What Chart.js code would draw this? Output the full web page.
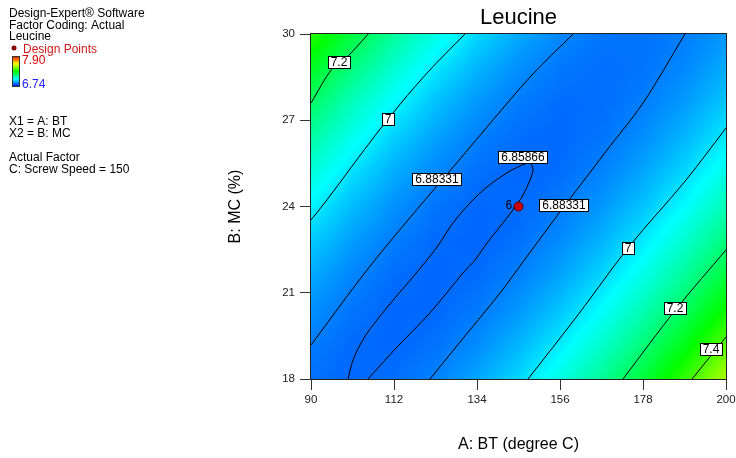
<!DOCTYPE html>
<html><head><meta charset="utf-8">
<script src="https://cdn.jsdelivr.net/npm/chart.js@4.4.0/dist/chart.umd.min.js"></script>
<style>html,body{margin:0;padding:0;background:#fff}#wrap{width:736px;height:458px;position:relative}</style>
</head><body><div id="wrap"><canvas id="c" width="736" height="458"></canvas></div>
<script>
// ---------- data ----------
const chartTitle = 'Leucine';
const xTitle = 'A: BT (degree C)';
const yTitle = 'B: MC (%)';
const xTicks = [90, 112, 134, 156, 178, 200];
const yTicks = [18, 21, 24, 27, 30];
const legendMax = 7.90;
const legendMin = 6.74;

// estimated response values on a grid (rows: B from 18 to 30, cols: A from 90 to 200)
const gridX = [90, 101, 112, 123, 134, 145, 156, 167, 178, 189, 200];
const gridY = [18, 19.2, 20.4, 21.6, 22.8, 24, 25.2, 26.4, 27.6, 28.8, 30];
const gridValues = [
  [6.867, 6.858, 6.866, 6.889, 6.929, 6.986, 7.060, 7.150, 7.255, 7.378, 7.517],
  [6.882, 6.861, 6.857, 6.870, 6.899, 6.945, 7.008, 7.086, 7.181, 7.292, 7.421],
  [6.904, 6.872, 6.857, 6.859, 6.877, 6.912, 6.963, 7.030, 7.113, 7.215, 7.332],
  [6.934, 6.891, 6.865, 6.856, 6.863, 6.886, 6.926, 6.983, 7.055, 7.145, 7.251],
  [6.972, 6.919, 6.882, 6.861, 6.856, 6.868, 6.898, 6.943, 7.005, 7.083, 7.178],
  [7.018, 6.954, 6.905, 6.873, 6.858, 6.860, 6.878, 6.912, 6.962, 7.029, 7.114],
  [7.072, 6.996, 6.937, 6.895, 6.868, 6.858, 6.865, 6.888, 6.928, 6.984, 7.056],
  [7.135, 7.048, 6.977, 6.924, 6.886, 6.865, 6.860, 6.872, 6.901, 6.946, 7.007],
  [7.205, 7.106, 7.025, 6.960, 6.912, 6.880, 6.864, 6.865, 6.883, 6.916, 6.967],
  [7.283, 7.175, 7.081, 7.005, 6.945, 6.903, 6.876, 6.866, 6.872, 6.895, 6.935],
  [7.369, 7.249, 7.145, 7.058, 6.987, 6.934, 6.895, 6.874, 6.870, 6.882, 6.910]
];

// contour lines (A, B)
const contour72Left = [{x:90,y:27.60},{x:95.49,y:28.77},{x:99.46,y:29.19},{x:105.19,y:30}];
const contour70Left = [{x:90,y:23.53},{x:94.24,y:24.23},{x:102.11,y:25.62},{x:110.41,y:27.04},{x:120.67,y:28.63},{x:130.82,y:30}];
const contour6883Left = [{x:90,y:19.18},{x:104.84,y:21.79},{x:120.22,y:24.23},{x:129.49,y:25.65},{x:138.24,y:27.01},{x:148.05,y:28.50},{x:159.45,y:30}];
const contour6859 = [
  {x:99.81,y:18},{x:101.13,y:18.66},{x:104.05,y:19.43},{x:107.49,y:20.05},{x:112.26,y:20.82},
  {x:117.04,y:21.55},{x:123.40,y:22.59},{x:127.64,y:23.43},{x:132.14,y:24.12},{x:136.65,y:24.68},
  {x:141.95,y:25.17},{x:145.40,y:25.41},{x:148.05,y:25.51},{x:148.84,y:25.27},{x:148.05,y:24.92},
  {x:146.19,y:24.40},{x:144.07,y:23.98},{x:140.89,y:23.43},{x:136.65,y:22.73},{x:133.47,y:22.14},
  {x:130.29,y:21.69},{x:121.54,y:20.30},{x:112.80,y:19.11},{x:105.11,y:18}
];
const contour6883Right = [{x:121.54,y:18},{x:130.82,y:19.50},{x:140.10,y:20.99},{x:146.46,y:22.12},{x:152.02,y:23.11},{x:157.32,y:24.05},{x:162.89,y:25.0},{x:168.19,y:25.92},{x:178.0,y:27.6},{x:189.13,y:30}];
const contour70Right = [{x:147.52,y:18},{x:160.77,y:20.23},{x:174.02,y:22.56},{x:189.40,y:24.92},{x:200,y:26.73}];
const contour72Right = [{x:172.70,y:18},{x:187.01,y:20.47},{x:200,y:22.49}];
const contour74Right = [{x:190.99,y:18},{x:200,y:19.46}];

const contourLabels = ['7.2', '7', '6.88331', '6.85866', '6.88331', '7', '7.2', '7.4'];
const contourLabelA = [97.29, 110.41, 123.40, 146.19, 157.06, 174.02, 186.48, 196.02];
const contourLabelB = [29.01, 27.04, 24.97, 25.72, 24.05, 22.56, 20.47, 19.06];

const designPoints = [{x:145, y:24}];
const designPointLabels = ['6.'];

const legendLines = ['Design-Expert\u00AE Software', 'Factor Coding: Actual', 'Leucine'];
const factorLines = ['X1 = A: BT', 'X2 = B: MC'];
const actualFactorLines = ['Actual Factor', 'C: Screw Speed = 150'];

// ---------- helpers ----------
const FONT = '"Liberation Sans", Arial, sans-serif';
const STOPS = [[0,0,0,255],[0.25,0,255,255],[0.5,0,255,0],[0.75,255,255,0],[1,255,0,0]];
function colorFor(v){
  let t = (v - legendMin) / (legendMax - legendMin);
  t = Math.max(0, Math.min(1, t));
  for (let i = 0; i < STOPS.length - 1; i++){
    const a = STOPS[i], b = STOPS[i+1];
    if (t <= b[0]){
      const f = (t - a[0]) / (b[0] - a[0]);
      return [a[1]+(b[1]-a[1])*f, a[2]+(b[2]-a[2])*f, a[3]+(b[3]-a[3])*f];
    }
  }
  return [255,0,0];
}
function idx(arr, v){
  let i = 0;
  while (i < arr.length - 2 && v > arr[i+1]) i++;
  return i;
}
function sample(xv, yv){
  const i = idx(gridX, xv), j = idx(gridY, yv);
  let fx = (xv - gridX[i]) / (gridX[i+1] - gridX[i]);
  let fy = (yv - gridY[j]) / (gridY[j+1] - gridY[j]);
  fx = Math.max(0, Math.min(1, fx)); fy = Math.max(0, Math.min(1, fy));
  const v00 = gridValues[j][i], v10 = gridValues[j][i+1], v01 = gridValues[j+1][i], v11 = gridValues[j+1][i+1];
  return v00*(1-fx)*(1-fy) + v10*fx*(1-fy) + v01*(1-fx)*fy + v11*fx*fy;
}

const heatmapPlugin = {
  id: 'heatmap',
  beforeDatasetsDraw(chart){
    const {ctx, chartArea: a, scales: {x, y}} = chart;
    const L = Math.round(a.left), T = Math.round(a.top);
    const w = Math.round(a.right) - L, h = Math.round(a.bottom) - T;
    const img = ctx.createImageData(w, h);
    for (let j = 0; j < h; j++){
      const yv = y.getValueForPixel(T + j + 0.5);
      for (let i = 0; i < w; i++){
        const xv = x.getValueForPixel(L + i + 0.5);
        const c = colorFor(sample(xv, yv));
        const k = (j*w + i) * 4;
        img.data[k] = c[0]; img.data[k+1] = c[1]; img.data[k+2] = c[2]; img.data[k+3] = 255;
      }
    }
    const off = document.createElement('canvas');
    off.width = w; off.height = h;
    off.getContext('2d').putImageData(img, 0, 0);
    ctx.drawImage(off, L, T);
  }
};

const overlayPlugin = {
  id: 'overlay',
  afterDatasetsDraw(chart){
    const {ctx, chartArea: a, scales: {x, y}} = chart;
    ctx.save();
    // contour labels
    ctx.font = '12px ' + FONT;
    ctx.textAlign = 'center';
    ctx.textBaseline = 'middle';
    for (let i = 0; i < contourLabels.length; i++){
      const px = Math.round(x.getPixelForValue(contourLabelA[i]));
      const py = Math.round(y.getPixelForValue(contourLabelB[i]));
      const tw = Math.ceil(ctx.measureText(contourLabels[i]).width);
      const bw = tw + 6, bh = 13;
      const bx = Math.round(px - bw/2), by = Math.round(py - bh/2);
      ctx.fillStyle = '#fff';
      ctx.fillRect(bx, by, bw, bh);
      ctx.strokeStyle = '#000';
      ctx.lineWidth = 1;
      ctx.strokeRect(bx + 0.5, by + 0.5, bw - 1, bh - 1);
      ctx.fillStyle = '#000';
      ctx.fillText(contourLabels[i], px, py + 0.5);
    }
    // design point labels
    ctx.textAlign = 'right';
    ctx.font = '12px ' + FONT;
    ctx.fillStyle = '#000';
    designPoints.forEach((p, i) => {
      ctx.fillText(designPointLabels[i], x.getPixelForValue(p.x) - 3, y.getPixelForValue(p.y) - 1);
    });
    // plot border
    ctx.strokeStyle = '#222';
    ctx.lineWidth = 1;
    ctx.strokeRect(Math.round(a.left) - 0.5, Math.round(a.top) - 0.5, Math.round(a.right) - Math.round(a.left) + 1, Math.round(a.bottom) - Math.round(a.top) + 1);
    ctx.restore();
  },
  afterDraw(chart){
    const ctx = chart.ctx;
    ctx.save();
    ctx.font = '12px ' + FONT;
    ctx.textAlign = 'left';
    ctx.textBaseline = 'alphabetic';
    ctx.fillStyle = '#000';
    legendLines.forEach((t, i) => ctx.fillText(t, 9, 17 + i*11.7));
    // design points legend
    ctx.fillStyle = '#8b0000';
    ctx.beginPath(); ctx.arc(14, 48, 2.5, 0, Math.PI*2); ctx.fill();
    ctx.fillStyle = '#d01818';
    ctx.fillText('Design Points', 23, 52.5);
    // color bar
    const gx = 12, gy = 56, gw = 8, gh = 31;
    const grad = ctx.createLinearGradient(0, gy, 0, gy + gh);
    for (let s = 0; s <= 20; s++){
      const c = colorFor(legendMax - (legendMax - legendMin) * s / 20);
      grad.addColorStop(s/20, 'rgb(' + c.map(Math.round).join(',') + ')');
    }
    ctx.fillStyle = grad;
    ctx.fillRect(gx, gy, gw, gh);
    ctx.strokeStyle = '#333';
    ctx.strokeRect(gx + 0.5, gy + 0.5, gw - 1, gh - 1);
    ctx.fillStyle = '#e00000';
    ctx.fillText(legendMax.toFixed(2), 22, 64);
    ctx.fillStyle = '#2020ff';
    ctx.fillText(legendMin.toFixed(2), 22, 88);
    ctx.fillStyle = '#000';
    factorLines.forEach((t, i) => ctx.fillText(t, 9, 125 + i*12));
    actualFactorLines.forEach((t, i) => ctx.fillText(t, 9, 161 + i*12));
    ctx.restore();
  }
};

function lineDS(data, smooth){
  const ds = {data, showLine: true, borderColor: '#000', borderWidth: 1, pointRadius: 0, pointHoverRadius: 0, fill: false};
  if (smooth === 'mono') { ds.cubicInterpolationMode = 'monotone'; ds.tension = 0.4; }
  else { ds.tension = smooth; }
  return ds;
}

new Chart(document.getElementById('c'), {
  type: 'scatter',
  data: {
    datasets: [
      {data: designPoints, pointRadius: 4.5, pointBackgroundColor: '#cc0000', pointBorderColor: '#5a0000', pointBorderWidth: 1, showLine: false},
      lineDS(contour72Left, 'mono'),
      lineDS(contour70Left, 'mono'),
      lineDS(contour6883Left, 'mono'),
      lineDS(contour6859, 0.3),
      lineDS(contour6883Right, 'mono'),
      lineDS(contour70Right, 'mono'),
      lineDS(contour72Right, 'mono'),
      lineDS(contour74Right, 0)
    ]
  },
  options: {
    responsive: false,
    animation: false,
    devicePixelRatio: 1,
    events: [],
    layout: {padding: {left: 220, right: 10, top: 0, bottom: 0}},
    plugins: {
      legend: {display: false},
      tooltip: {enabled: false},
      title: {
        display: true, text: chartTitle, fullSize: false, color: '#000',
        font: {family: FONT, size: 22, weight: 'normal', lineHeight: 1.2},
        padding: {top: 5, bottom: 2.6}
      }
    },
    scales: {
      x: {
        type: 'linear', position: 'bottom', min: 90, max: 200,
        afterBuildTicks: s => { s.ticks = xTicks.map(v => ({value: v})); },
        afterFit: s => { s.height = 79; s.paddingLeft = 0; s.paddingRight = 0; },
        ticks: {color: '#222', font: {family: FONT, size: 11.5}, padding: 3, maxRotation: 0, autoSkip: false},
        grid: {drawOnChartArea: false, drawTicks: true, tickLength: 11, color: '#333'},
        border: {display: true, color: '#222'},
        title: {display: true, text: xTitle, color: '#000', font: {family: FONT, size: 16, lineHeight: 1.2}, padding: {top: 0, bottom: 4}}
      },
      y: {
        type: 'linear', position: 'left', min: 18, max: 30,
        afterBuildTicks: s => { s.ticks = yTicks.map(v => ({value: v})); },
        afterFit: s => { s.width = 91; s.paddingTop = 0; s.paddingBottom = 0; },
        ticks: {color: '#222', font: {family: FONT, size: 11.5}, padding: 5, autoSkip: false},
        grid: {drawOnChartArea: false, drawTicks: true, tickLength: 11, color: '#333'},
        border: {display: true, color: '#222'},
        title: {display: true, text: yTitle, color: '#000', font: {family: FONT, size: 16, lineHeight: 1.2}, padding: {top: 6, bottom: 0}}
      }
    }
  },
  plugins: [heatmapPlugin, overlayPlugin]
});
</script>
</body></html>
